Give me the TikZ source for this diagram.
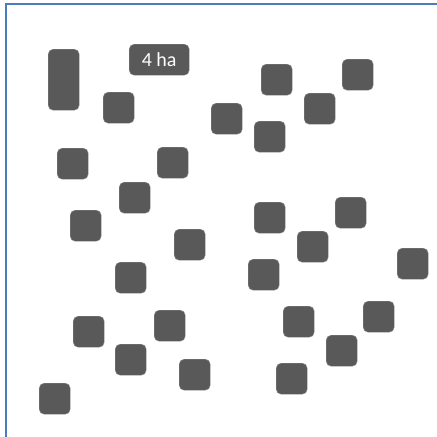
\documentclass[tikz,border=0pt]{standalone}
\usepackage{fontspec}
\setmainfont{Carlito}
\definecolor{blk}{HTML}{595959}
\definecolor{framecol}{HTML}{4A7EBB}
\begin{document}
\begin{tikzpicture}[x=1pt,y=-1pt,
  lot/.style={fill=blk,draw=blk!70!white,line width=0.4pt,rounded corners=5pt,minimum width=31pt,minimum height=31pt,inner sep=0pt,anchor=north west},
  tall/.style={lot,minimum height=61pt},
  lbl/.style={lot,minimum width=60pt,text=white,font=\fontsize{20}{24}\selectfont}]
\useasboundingbox (0,0) rectangle (437,437);
\fill[white] (0,0) rectangle (437,437);
\draw[draw=framecol,line width=2pt] (5.5,437) -- (5.5,3.5) -- (437,3.5);
\node[tall] (t1) at (48,49) {};
\node[lbl] (ha) at (129,44) {4 ha};
\foreach \n/\x/\y in {
  b3/103/92, b4/211/103, b5/57/148, b6/157/147, b7/119/182, b8/70/210,
  b9/261/64, b10/342/59, b11/304/93, b12/254/121, b13/254/202, b14/335/197,
  b15/174/229, b16/115/262, b17/73/316, b18/154/310, b19/115/344, b20/179/359,
  b21/39/383, b22/297/231, b23/397/248, b24/248/259, b25/283/306, b26/363/301,
  b27/326/335, b28/276/363}
  \node[lot] (\n) at (\x,\y) {};
\end{tikzpicture}
\end{document}
